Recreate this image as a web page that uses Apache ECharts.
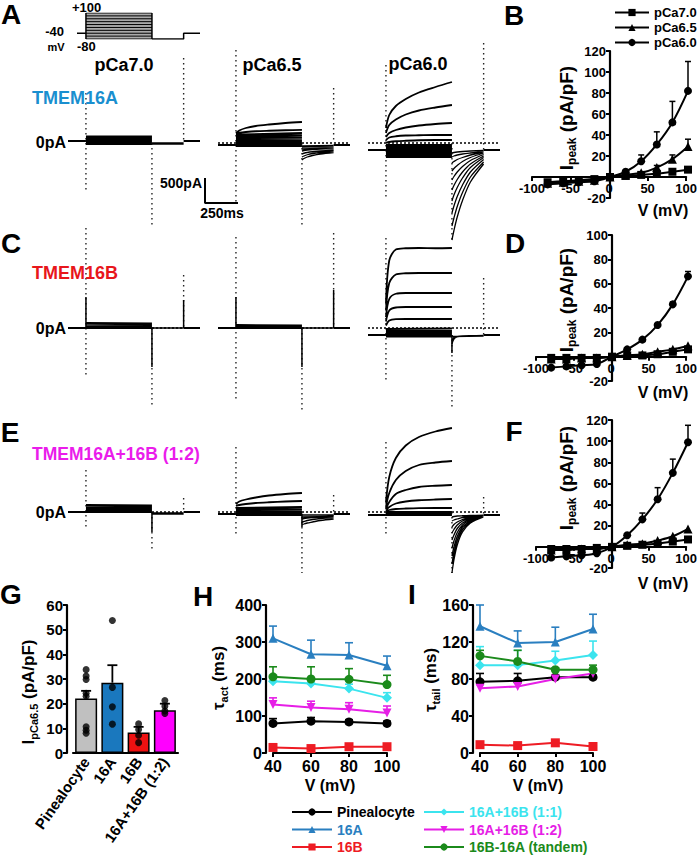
<!DOCTYPE html>
<html><head><meta charset="utf-8">
<script src="https://cdn.jsdelivr.net/npm/echarts@6/dist/echarts.min.js"></script>
<style>html,body{margin:0;padding:0;background:#fff}#c{width:700px;height:857px}</style>
</head><body><div id="c"></div>
<script>
// ---------- time bases (ms) ----------
const T_PULSE = [0, 25, 75, 150, 250, 375, 500];
const T_TAIL = [500, 515, 540, 580, 640, 740];
const T_PRE = [-136, 0];
const T_POST = [740, 864];

// ---------- voltage protocol (mV) ----------
const PROTO_STEPS = [-80, -60, -40, -20, 0, 20, 40, 60, 80, 100];
const PROTO_HOLD = -40;
const PROTO_TAIL = -80;
const PROTO_T = [-68, 0, 500, 740, 864];

// ---------- scale bar ----------
const SCALE_PA = 500;
const SCALE_MS = 250;

// ---------- current traces (pA) ----------
// Row A: TMEM16A
const A1_HOLD = [40, 40];
const A1_PULSE = [[130,130],[110,110],[90,90],[70,70],[50,50],[30,30],[10,10],[-10,-10],[-20,-20]];
const A1_TAIL = [[-20,-20],[-10,-10],[0,0]];
const A1_SPIKES = [[0,1000,-1000],[500,0,-1700],[740,1700,0]];
const A1_PEAKS = [];
const A2_HOLD = [-40, -40];
const A2_PULSE = [[200,250,300,340,370,400,420],[190,205,220,235,245,255,262],[170,200],[140,160],[110,120],[80,90],[50,55],[20,20],[-10,-10],[-40,-40],[-60,-60]];
const A2_TAIL = [[-340,-310,-280,-250,-220,-190],[-280,-260,-235,-210,-190,-170],[-220,-205,-190,-175,-160,-145],[-160,-150,-140,-130,-120,-110],[-120,-100],[-80,-70],[-60,-50]];
const A2_SPIKES = [[0,1860,-1240],[500,0,-1700],[740,1100,0]];
const A2_PEAKS = [];
const A3_HOLD = [-140, -140];
const A3_PULSE = [[300,560,740,880,1010,1120,1220],[200,360,470,570,650,710,760],[120,200,260,310,350,380,400],[60,110,135,150,155,160,160],[0,20,35,45,55,60,60],[-40,-40],[-80,-80],[-120,-120],[-160,-160],[-200,-200],[-240,-240],[-280,-280]];
const A3_TAIL = [[-1940,-1750,-1480,-1150,-780,-420],[-1660,-1500,-1270,-990,-680,-380],[-1400,-1260,-1070,-840,-580,-330],[-1160,-1040,-890,-700,-490,-290],[-940,-850,-730,-580,-420,-260],[-740,-670,-580,-470,-350,-230],[-560,-510,-450,-370,-290,-200],[-400,-370,-330,-290,-240,-180],[-280,-260,-240,-220,-200,-170],[-200,-190,-180,-170,-160,-150]];
const A3_SPIKES = [[0,1560,-1100],[500,0,-2000],[740,2000,-140]];
const A3_PEAKS = [];
// Row C: TMEM16B
const C1_HOLD = [0, 0];
const C1_PULSE = [[100,90],[80,75],[60,60],[40,40],[20,20],[0,0]];
const C1_TAIL = [[0,0]];
const C1_SPIKES = [[0,2000,-1000],[500,0,-1540],[740,1060,0]];
const C1_PEAKS = [[0,620,0],[500,0,-780],[740,560,0]];
const C2_HOLD = [0, 0];
const C2_PULSE = [[60,50],[40,40],[20,20],[0,0]];
const C2_TAIL = [[0,0]];
const C2_SPIKES = [[0,1820,-1440],[500,0,-1640],[740,1900,0]];
const C2_PEAKS = [[0,620,0],[500,0,-780],[740,760,0]];
const C3_HOLD = [-140, -140];
const C3_PULSE = [[500,1350,1570,1595,1600,1595,1600],[350,900,1070,1095,1100,1100,1100],[220,580,685,700,700,700,700],[130,350,410,420,420,420,420],[50,150,178,180,180,180,180],[-20,-10],[-60,-60],[-100,-100],[-140,-140],[-170,-170]];
const C3_TAIL = [[-320,-220,-180,-165,-160,-160],[-240,-190,-170,-160,-155,-150],[-170,-160]];
const C3_SPIKES = [[0,1800,-1100],[500,-140,-1640],[740,1000,-140]];
const C3_PEAKS = [[500,-140,-500]];
// Row E: TMEM16A+16B (1:2)
const E1_HOLD = [0, 0];
const E1_PULSE = [[140,130],[110,110],[80,80],[50,50],[20,20],[0,0]];
const E1_TAIL = [[-40,-40],[-20,-20]];
const E1_SPIKES = [[0,840,-300],[500,0,-800],[740,280,0]];
const E1_PEAKS = [[500,0,-400]];
const E2_HOLD = [-40, -40];
const E2_PULSE = [[160,210,250,290,330,360,380],[120,140,160,180,195,210,220],[80,100],[50,60],[20,20],[0,0],[-20,-20],[-40,-40],[-60,-60]];
const E2_TAIL = [[-260,-240,-220,-200,-170,-140],[-200,-190,-170,-150,-130,-110],[-140,-130,-120,-110,-100,-90],[-100,-90],[-60,-60]];
const E2_SPIKES = [[0,1300,-460],[500,0,-1220],[740,340,0]];
const E2_PEAKS = [[500,-40,-300]];
const E3_HOLD = [-60, -60];
const E3_PULSE = [[200,700,1080,1330,1500,1610,1680],[100,380,640,820,940,990,1020],[60,200,360,440,500,525,540],[30,100,170,210,235,250,260],[10,40,60,70,78,80,80],[0,0],[-30,-30],[-60,-60]];
const E3_TAIL = [[-1220,-960,-660,-400,-220,-100],[-1040,-820,-570,-350,-200,-95],[-880,-700,-490,-300,-180,-90],[-720,-580,-410,-260,-160,-85],[-560,-460,-330,-220,-140,-80],[-420,-350,-260,-180,-120,-75],[-300,-250,-200,-150,-100,-70],[-180,-160,-140,-110,-90,-70],[-100,-90,-80,-75,-70,-65]];
const E3_SPIKES = [[0,1400,-500],[500,0,-1220],[740,300,-60]];
const E3_PEAKS = [];

// ---------- I-V curves (pA/pF) ----------
const IV_V = [-80, -60, -40, -20, 0, 20, 40, 60, 80, 100];
const B_PCA70 = [-5, -4, -3, -2, 0, 1, 2, 3, 5, 7];
const B_PCA65 = [-6, -5, -4, -3, 0, 2, 4, 9, 17, 29];
const B_PCA60 = [-7, -6, -5, -4, 0, 5, 15, 31, 52, 82];
const B_PCA60_ERR = [null, null, null, null, null, null, 21, 43, 72, 110];
const B_PCA65_ERR = [null, null, null, null, null, null, null, 11, 21, 36];
const D_PCA70 = [-1, -1, -1, -1, 0, 1, 1, 2, 4, 6];
const D_PCA65 = [-2, -2, -1, -1, 0, 1, 2, 4, 6, 9];
const D_PCA60 = [-9, -8, -7, -6, 0, 6, 14, 26, 43, 66];
const D_PCA60_ERR = [null, null, null, null, null, null, null, null, 45, 70];
const F_PCA70 = [-2, -2, -2, -1, 0, 1, 2, 3, 5, 7];
const F_PCA65 = [-3, -3, -2, -2, 0, 2, 3, 6, 10, 17];
const F_PCA60 = [-10, -9, -8, -6, 0, 11, 26, 45, 70, 99];
const F_PCA60_ERR = [null, null, null, null, null, null, 32, 56, 83, 115];

// ---------- G: I pCa6.5 ----------
const G_CATS = ['Pinealocyte', '16A', '16B', '16A+16B (1:2)'];
const G_MEAN = [22.1, 28.5, 8.3, 17.3];
const G_ERR = [25.2, 35.6, 10.6, 20.0];
const G_DOTS_PINE = [33.8, 31.2, 29.8, 24.2, 23.0, 10.6, 9.2, 8.0];
const G_DOTS_16A = [53.7, 26.6, 18.7, 11.7];
const G_DOTS_16B = [11.8, 9.5, 7.2, 4.2];
const G_DOTS_12 = [21.3, 19.0, 17.0, 16.0];

// ---------- H / I: time constants (ms) ----------
const HI_V = [40, 60, 80, 100];
const GROUP_NAMES = ['Pinealocyte', '16A', '16B', '16A+16B (1:1)', '16A+16B (1:2)', '16B-16A (tandem)'];
const H_PINE = [80, 86, 84, 80],    H_PINE_ERR = [93, 96, 90, 86];
const H_16A = [310, 267, 265, 236], H_16A_ERR = [343, 305, 298, 262];
const H_16B = [15, 12, 17, 17],     H_16B_ERR = [19, 15, 20, 20];
const H_11 = [194, 188, 174, 149],  H_11_ERR = [206, 199, 186, 163];
const H_12 = [131, 123, 118, 108],  H_12_ERR = [149, 140, 136, 127];
const H_TAN = [206, 200, 199, 185], H_TAN_ERR = [233, 233, 228, 210];
const I_PINE = [77, 78, 82, 82],    I_PINE_ERR = [86, 86, 84, 84];
const I_16A = [137, 119, 120, 134], I_16A_ERR = [160, 132, 136, 150];
const I_16B = [9, 8, 11, 7],        I_16B_ERR = [11, 10, 13, 9];
const I_11 = [95, 95, 100, 106],    I_11_ERR = [115, 111, 110, 121];
const I_12 = [70, 72, 80, 86],      I_12_ERR = [74, 76, 83, 89];
const I_TAN = [105, 99, 90, 90],    I_TAN_ERR = [111, 111, 92, 95];

// ================= rendering =================
const FONT = '"Liberation Sans", Arial, Helvetica, sans-serif';
const C_BLUE_T = '#1a8fcf', C_RED_T = '#e8161c', C_MAG_T = '#ea1ceb';
const GROUP_COLORS = ['#000000', '#2a7fc0', '#ee1c24', '#3be4ee', '#e61ee6', '#1b8a1b'];
const GROUP_SYMBOLS = ['circle', 'triangle', 'rect', 'diamond', 'triangle', 'circle'];
const GROUP_ROT = [0, 0, 0, 0, 180, 0];
const BAR_COLORS = ['#c0c0c0', '#1a78be', '#ee1111', '#ff00ff'];

const grids = [], xAxes = [], yAxes = [], series = [], graphic = [];
function addGrid(g, xa, ya) {
  const i = grids.length;
  grids.push(Object.assign({ containLabel: false }, g));
  xAxes.push(Object.assign({ gridIndex: i }, xa));
  yAxes.push(Object.assign({ gridIndex: i }, ya));
  return i;
}
const hidden = (min, max) => ({ type: 'value', min, max, show: false });

const seg = (arr, T) => arr.length === 2 ? [[T[0], arr[0]], [T[T.length - 1], arr[1]]] : arr.map((v, i) => [T[i], v]);
function joinTraces(list, T) {
  const d = [];
  list.forEach((a, k) => { if (k) d.push([T[0], '-']); d.push(...seg(a, T)); });
  return d;
}
function vLines(list) {
  const d = [];
  list.forEach(([t, a, b], k) => { if (k) d.push([t, '-']); d.push([t, a], [t, b]); });
  return d;
}

// trace panels
const COLX = [68, 218, 368], ROWY = [43, 228, 412];
const PANELS = [
  [A1_HOLD, A1_PULSE, A1_TAIL, A1_SPIKES, A1_PEAKS, false],
  [A2_HOLD, A2_PULSE, A2_TAIL, A2_SPIKES, A2_PEAKS, true],
  [A3_HOLD, A3_PULSE, A3_TAIL, A3_SPIKES, A3_PEAKS, true],
  [C1_HOLD, C1_PULSE, C1_TAIL, C1_SPIKES, C1_PEAKS, true],
  [C2_HOLD, C2_PULSE, C2_TAIL, C2_SPIKES, C2_PEAKS, true],
  [C3_HOLD, C3_PULSE, C3_TAIL, C3_SPIKES, C3_PEAKS, true],
  [E1_HOLD, E1_PULSE, E1_TAIL, E1_SPIKES, E1_PEAKS, true],
  [E2_HOLD, E2_PULSE, E2_TAIL, E2_SPIKES, E2_PEAKS, true],
  [E3_HOLD, E3_PULSE, E3_TAIL, E3_SPIKES, E3_PEAKS, true]
];
PANELS.forEach((p, k) => {
  const [hold, pulse, tail, spikes, peaks, zero] = p;
  const gi = addGrid({ left: COLX[k % 3], top: ROWY[Math.floor(k / 3)], width: 132, height: 200 },
    hidden(T_PRE[0], T_POST[1]), hidden(-2000, 2000));
  const base = { type: 'line', xAxisIndex: gi, yAxisIndex: gi, symbol: 'none', silent: true, animation: false };
  if (zero) series.push(Object.assign({}, base, { data: [[T_PRE[0], 0], [T_POST[1], 0]], lineStyle: { color: '#000', width: 1.6, type: [2, 2] } }));
  series.push(Object.assign({}, base, { data: vLines(spikes), lineStyle: { color: '#222', width: 1.4, type: [1.5, 3.5] } }));
  if (peaks.length) series.push(Object.assign({}, base, { data: vLines(peaks), lineStyle: { color: '#000', width: 1.5 } }));
  series.push(Object.assign({}, base, { data: [[T_PRE[0], hold[0]], [T_PRE[1], hold[0]], [T_POST[0], '-'], [T_POST[0], hold[1]], [T_POST[1], hold[1]]], lineStyle: { color: '#000', width: 2 } }));
  series.push(Object.assign({}, base, { data: joinTraces(pulse, T_PULSE), smooth: 0.3, lineStyle: { color: '#000', width: 1.8 } }));
  series.push(Object.assign({}, base, { data: joinTraces(tail, T_TAIL), smooth: 0.3, lineStyle: { color: '#000', width: 1.3 } }));
});

// protocol
(function () {
  const gi = addGrid({ left: 68, top: 13, width: 132, height: 26 }, hidden(T_PRE[0], T_POST[1]), hidden(PROTO_STEPS[0], PROTO_STEPS[PROTO_STEPS.length - 1]));
  const base = { type: 'line', xAxisIndex: gi, yAxisIndex: gi, symbol: 'none', silent: true, animation: false };
  const top = PROTO_STEPS[PROTO_STEPS.length - 1];
  series.push(Object.assign({}, base, { data: [[PROTO_T[1], top], [PROTO_T[2], top]], areaStyle: { color: '#aaaaaa', opacity: 1, origin: 'start' }, lineStyle: { width: 0 } }));
  const steps = [];
  PROTO_STEPS.forEach((v, k) => { if (k) steps.push([PROTO_T[1], '-']); steps.push([PROTO_T[1], v], [PROTO_T[2], v]); });
  series.push(Object.assign({}, base, { data: steps, lineStyle: { color: '#000', width: 1 } }));
  series.push(Object.assign({}, base, { data: [[PROTO_T[1], PROTO_STEPS[0]], [PROTO_T[1], top], [PROTO_T[1], '-'], [PROTO_T[2], top], [PROTO_T[2], PROTO_STEPS[0]]], lineStyle: { color: '#000', width: 1.5 } }));
  series.push(Object.assign({}, base, { data: [[PROTO_T[0], PROTO_HOLD], [PROTO_T[1], PROTO_HOLD], [PROTO_T[2], '-'], [PROTO_T[2], PROTO_TAIL], [PROTO_T[3], PROTO_TAIL], [PROTO_T[3], PROTO_HOLD], [PROTO_T[4], PROTO_HOLD]], lineStyle: { color: '#000', width: 1.5 } }));
})();

// scale bar
(function () {
  const gi = addGrid({ left: 205, top: 178, width: 33, height: 25 }, hidden(0, SCALE_MS), hidden(0, SCALE_PA));
  series.push({ type: 'line', xAxisIndex: gi, yAxisIndex: gi, symbol: 'none', silent: true, animation: false, clip: false,
    data: [[0, SCALE_PA], [0, 0], [SCALE_MS, 0]], lineStyle: { color: '#000', width: 2 } });
})();

// axis styling helpers
const lbl = (fs, extra) => Object.assign({ color: '#000', fontSize: fs, fontWeight: 'bold', fontFamily: FONT }, extra || {});
const aLine = (extra) => Object.assign({ show: true, lineStyle: { color: '#000', width: 2.2 } }, extra || {});
const aTick = { show: true, length: 4, lineStyle: { color: '#000', width: 2 } };

function errSeries(gi, data, color, capW, lw) {
  return { type: 'custom', xAxisIndex: gi, yAxisIndex: gi, silent: true, animation: false, z: 1, data,
    renderItem(params, api) {
      const x = api.value(0), y = api.value(1), t = api.value(2);
      const p0 = api.coord([x, y]), p1 = api.coord([x, t]);
      const st = { stroke: color, lineWidth: lw || 1.5 };
      return { type: 'group', children: [
        { type: 'line', shape: { x1: p0[0], y1: p0[1], x2: p1[0], y2: p1[1] }, style: st },
        { type: 'line', shape: { x1: p1[0] - capW, y1: p1[1], x2: p1[0] + capW, y2: p1[1] }, style: st }
      ] };
    } };
}
const errData = (xs, ys, tops) => xs.map((x, i) => tops[i] == null ? null : [x, ys[i], tops[i]]).filter(Boolean);

// IV panels: y axis shifted to x=0 (negative offset); the x axis with its labels is drawn by a companion grid whose bottom is the y=0 line
function ivPanel(box, ymax, s70, s65, s60, e65, e60) {
  const ymin = -20;
  const gi = addGrid(box, hidden(-100, 100),
    { type: 'value', min: ymin, max: ymax, interval: 20, offset: -box.width / 2, axisLine: aLine({ onZero: false }), axisTick: aTick, splitLine: { show: false },
      axisLabel: lbl(13, { margin: 4, formatter: v => v === 0 ? '' : String(v) }) });
  const zeroH = box.height * ymax / (ymax - ymin);
  addGrid({ left: box.left, width: box.width, top: box.top, height: zeroH },
    { type: 'value', min: -100, max: 100, interval: 50, axisLine: aLine({ onZero: false }), axisTick: aTick, splitLine: { show: false },
      axisLabel: lbl(13, { margin: 5 }) }, hidden(0, 1));
  const mk = (name, arr, sym) => ({ type: 'line', name, xAxisIndex: gi, yAxisIndex: gi, smooth: 0.35, symbol: sym, symbolSize: sym === 'triangle' ? 9 : 8,
    data: IV_V.map((v, i) => [v, arr[i]]), lineStyle: { color: '#000', width: 2 }, itemStyle: { color: '#000' }, animation: false, z: 3 });
  series.push(mk('pCa7.0', s70, 'rect'), mk('pCa6.5', s65, 'triangle'), mk('pCa6.0', s60, 'circle'));
  if (e65) series.push(errSeries(gi, errData(IV_V, s65, e65), '#000', 3, 1.5));
  if (e60) series.push(errSeries(gi, errData(IV_V, s60, e60), '#000', 3, 1.5));
}
ivPanel({ left: 532, top: 51, width: 156, height: 147 }, 120, B_PCA70, B_PCA65, B_PCA60, B_PCA65_ERR, B_PCA60_ERR);
ivPanel({ left: 536, top: 235, width: 152, height: 146 }, 100, D_PCA70, D_PCA65, D_PCA60, null, D_PCA60_ERR);
ivPanel({ left: 536, top: 420, width: 152, height: 148 }, 120, F_PCA70, F_PCA65, F_PCA60, null, F_PCA60_ERR);

// G bar chart
(function () {
  const gi = addGrid({ left: 73, top: 605, width: 105, height: 148 },
    { type: 'category', data: G_CATS, axisLine: aLine(), axisTick: { show: false },
      axisLabel: lbl(15, { rotate: 55, interval: 0, margin: 6 }) },
    { type: 'value', min: 0, max: 60, interval: 10, offset: 6, axisLine: aLine(), axisTick: aTick, splitLine: { show: false },
      axisLabel: lbl(15, { margin: 4 }) });
  series.push({ type: 'bar', xAxisIndex: gi, yAxisIndex: gi, barWidth: 22, animation: false,
    data: G_MEAN.map((v, i) => ({ value: v, itemStyle: { color: BAR_COLORS[i], borderColor: '#000', borderWidth: 1.5 } })) });
  series.push(errSeries(gi, G_MEAN.map((v, i) => [i, v, G_ERR[i]]), '#000', 5, 1.8));
  const dots = [];
  [G_DOTS_PINE, G_DOTS_16A, G_DOTS_16B, G_DOTS_12].forEach((arr, i) => arr.forEach(v => dots.push([i, v])));
  series.push({ type: 'scatter', xAxisIndex: gi, yAxisIndex: gi, symbolSize: 7, itemStyle: { color: '#000' }, data: dots, animation: false, z: 4 });
})();

// H and I
function tauPanel(box, ymax, interval, vals, errs) {
  const gi = addGrid(box,
    { type: 'value', min: 40, max: 100, interval: 20, axisLine: aLine({ onZero: false }), axisTick: aTick, splitLine: { show: false },
      axisLabel: lbl(16, { margin: 5 }) },
    { type: 'value', min: 0, max: ymax, interval, offset: 7, axisLine: aLine(), axisTick: aTick, splitLine: { show: false },
      axisLabel: lbl(16, { margin: 4 }) });
  vals.forEach((arr, k) => {
    series.push(errSeries(gi, errData(HI_V, arr, errs[k]), GROUP_COLORS[k], 4, 1.6));
    series.push({ type: 'line', name: GROUP_NAMES[k], xAxisIndex: gi, yAxisIndex: gi, symbol: GROUP_SYMBOLS[k], symbolRotate: GROUP_ROT[k],
      symbolSize: GROUP_SYMBOLS[k] === 'diamond' ? 10 : 9, data: HI_V.map((v, i) => [v, arr[i]]),
      lineStyle: { color: GROUP_COLORS[k], width: 2 }, itemStyle: { color: GROUP_COLORS[k] }, animation: false, z: 3 });
  });
}
tauPanel({ left: 273, top: 605, width: 114, height: 148 }, 400, 100,
  [H_PINE, H_16A, H_16B, H_11, H_12, H_TAN], [H_PINE_ERR, H_16A_ERR, H_16B_ERR, H_11_ERR, H_12_ERR, H_TAN_ERR]);
tauPanel({ left: 480, top: 605, width: 113, height: 148 }, 160, 40,
  [I_PINE, I_16A, I_16B, I_11, I_12, I_TAN], [I_PINE_ERR, I_16A_ERR, I_16B_ERR, I_11_ERR, I_12_ERR, I_TAN_ERR]);

// ---------- texts ----------
function txt(text, x, y, fs, opts) {
  opts = opts || {};
  graphic.push({ type: 'text', x, y, rotation: opts.rot || 0, silent: true, z: 10,
    style: { text, fill: opts.color || '#000', font: 'bold ' + fs + 'px ' + FONT,
      align: opts.align || 'center', verticalAlign: opts.va || 'middle', rich: opts.rich } });
}
[['A', 11, 14], ['B', 514, 15], ['C', 11, 243], ['D', 515, 243], ['E', 10, 432], ['F', 514, 431], ['G', 11, 594], ['H', 203, 596], ['I', 412, 594]]
  .forEach(([t, x, y]) => txt(t, x, y, 28));
txt('pCa7.0', 124, 65, 18); txt('pCa6.5', 272, 65, 18); txt('pCa6.0', 418, 64, 18);
txt('TMEM16A', 32, 98, 18, { align: 'left', color: C_BLUE_T });
txt('TMEM16B', 32, 273, 18, { align: 'left', color: C_RED_T });
txt('TMEM16A+16B (1:2)', 32, 454, 17.5, { align: 'left', color: C_MAG_T });
txt('0pA', 66, 142, 16, { align: 'right' }); txt('0pA', 66, 328, 16, { align: 'right' }); txt('0pA', 66, 512, 16, { align: 'right' });
txt('+100', 72, 7, 13, { align: 'left' }); txt('-40', 64, 31.5, 13, { align: 'right' });
txt('mV', 56, 46.5, 11); txt('-80', 77, 46, 13, { align: 'left' });
txt('500pA', 202, 183, 14, { align: 'right' }); txt('250ms', 222, 213, 14);

const ipeakRich = { a: { fontSize: 19, fontWeight: 'bold', fontFamily: FONT, lineHeight: 24 },
  s: { fontSize: 12, fontWeight: 'bold', fontFamily: FONT, lineHeight: 10, verticalAlign: 'bottom' } };
[118, 300, 478].forEach(y => txt('{a|I}{s|peak}{a| (pA/pF)}', 566, y, 19, { rot: Math.PI / 2, rich: ipeakRich }));
[210, 392, 583].forEach(y => txt('V (mV)', 663, y, 16));
const gRich = { a: { fontSize: 17, fontWeight: 'bold', fontFamily: FONT, lineHeight: 22 },
  s: { fontSize: 11, fontWeight: 'bold', fontFamily: FONT, lineHeight: 9, verticalAlign: 'bottom' } };
txt('{a|I}{s|pCa6.5}{a| (pA/pF)}', 28, 692, 17, { rot: Math.PI / 2, rich: gRich });
const tRich = { a: { fontSize: 17, fontWeight: 'bold', fontFamily: FONT, lineHeight: 22 },
  s: { fontSize: 11, fontWeight: 'bold', fontFamily: FONT, lineHeight: 9, verticalAlign: 'bottom' } };
txt('{a|τ}{s|act}{a| (ms)}', 218, 678, 17, { rot: Math.PI / 2, rich: tRich });
txt('{a|τ}{s|tail}{a| (ms)}', 430, 680, 17, { rot: Math.PI / 2, rich: tRich });
txt('V (mV)', 330, 785, 16); txt('V (mV)', 538, 785, 16);

// ---------- legends ----------
const legendText = { fontSize: 14, fontWeight: 'bold', fontFamily: FONT, lineHeight: 14 };
const legends = [
  { data: ['pCa7.0', 'pCa6.5', 'pCa6.0'], orient: 'vertical', left: 614, top: 6, padding: 0, itemWidth: 34, itemHeight: 9, itemGap: 2,
    selectedMode: false, textStyle: Object.assign({}, legendText, { color: '#000', fontSize: 13, lineHeight: 13 }) },
  { data: GROUP_NAMES.slice(0, 3).map((n, i) => ({ name: n, textStyle: { color: GROUP_COLORS[i] } })), orient: 'vertical', left: 291, top: 805, padding: 0,
    itemWidth: 40, itemHeight: 9, itemGap: 3.5, selectedMode: false, textStyle: legendText },
  { data: GROUP_NAMES.slice(3).map((n, i) => ({ name: n, textStyle: { color: GROUP_COLORS[i + 3] } })), orient: 'vertical', left: 423, top: 805, padding: 0,
    itemWidth: 40, itemHeight: 9, itemGap: 3.5, selectedMode: false, textStyle: legendText }
];

const chart = echarts.init(document.getElementById('c'), null, { renderer: 'svg' });
chart.setOption({ animation: false, backgroundColor: '#fff', textStyle: { fontFamily: FONT },
  grid: grids, xAxis: xAxes, yAxis: yAxes, series, graphic, legend: legends });
</script></body></html>
